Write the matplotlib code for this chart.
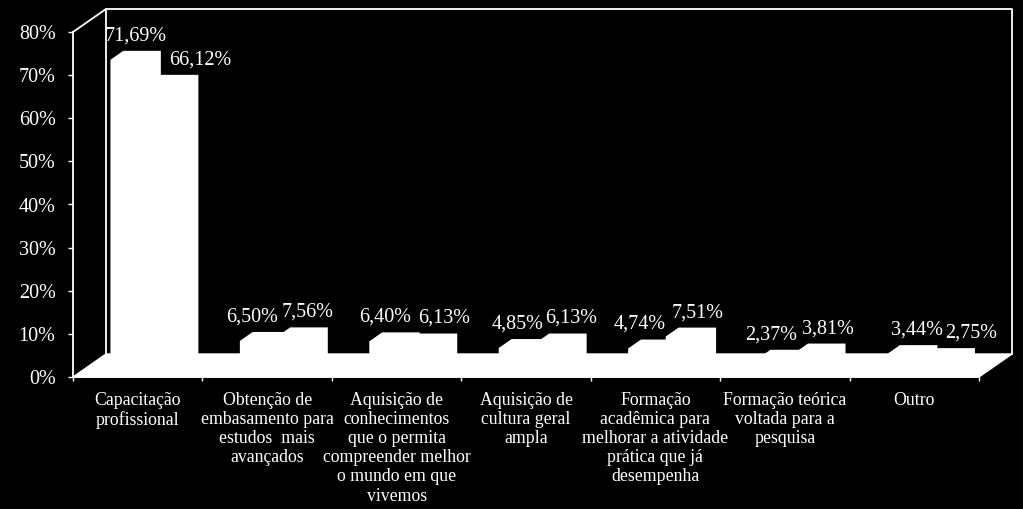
import matplotlib
matplotlib.use('Agg')
import matplotlib.pyplot as plt
from matplotlib.patches import Polygon

plt.rcParams['font.family'] = ['Liberation Serif', 'DejaVu Serif']

# categorias e valores (duas series, ambas brancas)
categorias = [
    'Capacitação\nprofissional',
    'Obtenção de\nembasamento para\nestudos  mais\navançados',
    'Aquisição de\nconhecimentos\nque o permita\ncompreender melhor\no mundo em que\nvivemos',
    'Aquisição de\ncultura geral\nampla',
    'Formação\nacadêmica para\nmelhorar a atividade\nprática que já\ndesempenha',
    'Formação teórica\nvoltada para a\npesquisa',
    'Outro',
]
serie1 = [71.69, 6.50, 6.40, 4.85, 4.74, 2.37, 3.44]
serie2 = [66.12, 7.56, 6.13, 6.13, 7.51, 3.81, 2.75]
yticks = [0, 10, 20, 30, 40, 50, 60, 70, 80]

# ajuste horizontal dos rotulos (pixels), como o Excel deslocou
nudge1 = [-6, -19, -16, -13, -20, -18, -2]
nudge2 = [21, -1, 6, 3, 0, 1, 15]

W, H = 1023, 509
fig = plt.figure(figsize=(W / 100, H / 100), dpi=100, facecolor='black')
ax = fig.add_axes([73 / W, 132 / H, 906 / W, 345 / H])
ax.set_xlim(0, 7)
ax.set_ylim(0, 80)
ax.set_facecolor('none')

# deslocamento de profundidade (33 px para a direita, 23 px para cima)
inv = ax.transData.inverted()
p0 = ax.transData.transform((0, 0))
DX, DY = inv.transform((p0[0] + 33, p0[1] + 23)) - inv.transform(p0)

def proj(x, y, d):
    return (x + d * DX, y + d * DY)

# piso
floor = Polygon([proj(0, 0, 0), proj(7, 0, 0), proj(7, 0, 1), proj(0, 0, 1)],
                closed=True, facecolor='white', edgecolor='white', lw=1,
                clip_on=False, zorder=1)
ax.add_patch(floor)

# paredes
bx = [proj(0, 0, 1)[0], proj(0, 80, 1)[0], proj(7, 80, 1)[0], proj(7, 0, 1)[0]]
by = [proj(0, 0, 1)[1], proj(0, 80, 1)[1], proj(7, 80, 1)[1], proj(7, 0, 1)[1]]
ax.plot(bx, by, color='white', lw=1.3, clip_on=False, zorder=1)
ax.plot([0, DX], [80, 80 + DY], color='white', lw=1.3, clip_on=False, zorder=1)

# barras
bw = 0.29
df, db = 0.35, 0.74
for i in range(len(categorias)):
    for s, (vals, nud) in enumerate([(serie1, nudge1), (serie2, nudge2)]):
        v = vals[i]
        x0 = i + 0.2 + s * bw
        x1 = x0 + bw
        pts = [proj(x0, 0, df), proj(x0, v, df), proj(x0, v, db),
               proj(x1, v, db), proj(x1, 0, db), proj(x1, 0, df)]
        ax.add_patch(Polygon(pts, closed=True, facecolor='white',
                             edgecolor='none', clip_on=False, zorder=2))
        txt = ('%.2f%%' % v).replace('.', ',')
        ax.annotate(txt, xy=proj((x0 + x1) / 2, v, db),
                    xytext=(nud[i] * 0.72, 15 * 0.72), textcoords='offset points',
                    ha='center', va='center', color='white', fontsize=14.5,
                    zorder=3, annotation_clip=False)

# eixos
for sp in ['top', 'right']:
    ax.spines[sp].set_visible(False)
ax.spines['left'].set_color('white')
ax.spines['left'].set_linewidth(1.3)
ax.spines['bottom'].set_color('white')
ax.spines['bottom'].set_linewidth(1.3)

ax.set_yticks(yticks)
ax.set_yticklabels(['%d%%' % t for t in yticks])
ax.tick_params(axis='y', colors='white', length=3.6, width=1, pad=9,
               labelsize=14.5, direction='out')

ax.set_xticks(range(8))
ax.set_xticklabels([''] * 8)
ax.set_xticks([i + 0.5 for i in range(7)], minor=True)
ax.set_xticklabels(categorias, minor=True)
ax.tick_params(axis='x', which='major', colors='white', length=3, width=1)
ax.tick_params(axis='x', which='minor', colors='white', length=0, pad=10.5,
               labelsize=12.8)
for lab in ax.get_xticklabels(minor=True):
    lab.set_linespacing(1.17)

fig.savefig('out.png', dpi=100, facecolor='black')
